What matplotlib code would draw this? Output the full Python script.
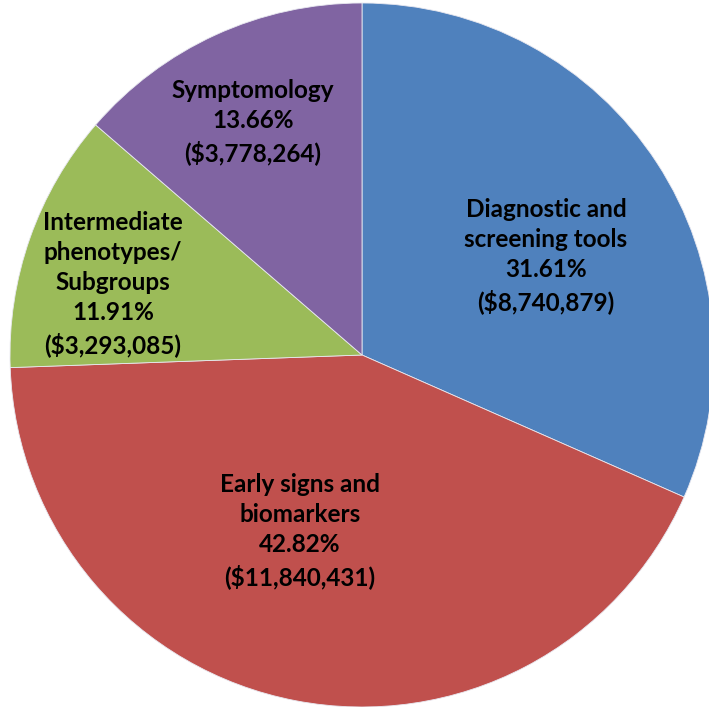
import matplotlib
matplotlib.use('Agg')
import matplotlib.pyplot as plt

## data
labels = ['Diagnostic and\nscreening tools', 'Early signs and\nbiomarkers',
          'Intermediate\nphenotypes/\nSubgroups', 'Symptomology']
shares = [31.61, 42.82, 11.91, 13.66]
amounts = ['$8,740,879', '$11,840,431', '$3,293,085', '$3,778,264']
colors = ['#4F81BD', '#C0504D', '#9BBB59', '#8064A2']

## label centres in pixel coordinates (y up)
label_pos = [(546, 451), (300, 176), (113, 423), (253, 585)]

fig = plt.figure(figsize=(7.09, 7.07), dpi=100)
ax = fig.add_axes([0, 0, 1, 1])

ax.pie(shares, colors=colors, startangle=90, counterclock=False,
       center=(362, 352), radius=352, frame=True,
       wedgeprops={'edgecolor': '#e8e8f0', 'linewidth': 0.6})
ax.set_xlim(0, 709)
ax.set_ylim(0, 707)
ax.set_aspect('equal')
ax.axis('off')

for lab, s, a, (x, y) in zip(labels, shares, amounts, label_pos):
    ax.text(x, y, '%s\n%.2f%%\n(%s)' % (lab, s, a), ha='center', va='center',
            fontsize=17.5, fontweight='bold', family='Lato', linespacing=1.38,
            color='black')

fig.savefig('out.png', dpi=100)
